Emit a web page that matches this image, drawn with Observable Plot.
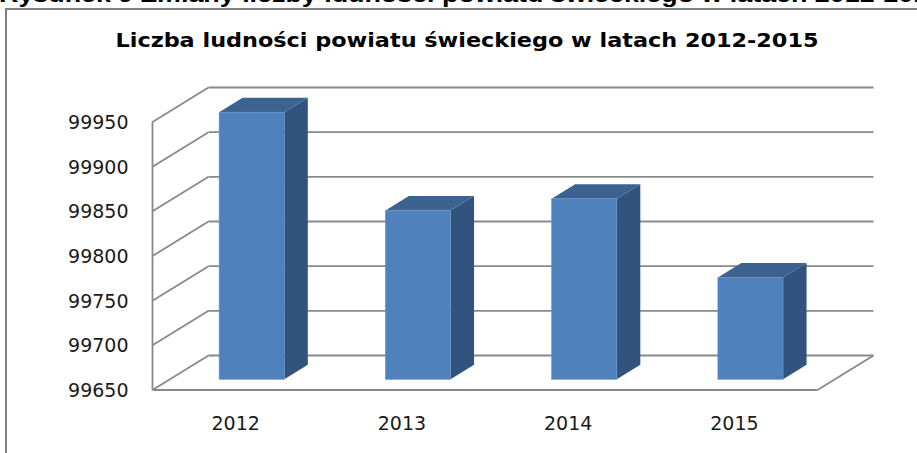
<!DOCTYPE html>
<html>
<head>
<meta charset="utf-8">
<script src="https://cdn.jsdelivr.net/npm/d3@7"></script>
<script src="https://cdn.jsdelivr.net/npm/@observablehq/plot@0.6"></script>
<style>
  html, body { margin: 0; padding: 0; width: 917px; height: 453px; overflow: hidden; background: #fff; }
  #wrap { position: relative; width: 917px; height: 453px; overflow: hidden; }
  #caption { position: absolute; left: -1px; top: -16px; font: bold 22px "Liberation Sans", Arial, sans-serif; line-height: 22px; white-space: nowrap; color: #000; transform: scaleX(1.22); transform-origin: 0 0; }
  #frame { position: absolute; left: 5px; top: 8px; width: 1200px; height: 800px; border: 2px solid #808080; box-sizing: border-box; pointer-events: none; }
  #chart { position: absolute; left: 0; top: 0; }
</style>
</head>
<body>
<div id="wrap">
  <div id="chart"></div>
  <div id="frame"></div>
  <div id="caption"></div>
</div>
<script>
// ---- data ----
const captionText = "Rysunek 9 Zmiany liczby ludności powiatu świeckiego w latach 2012-2015";
const titleText = "Liczba ludności powiatu świeckiego w latach 2012-2015";
const years = ["2012", "2013", "2014", "2015"];
const population = [99949, 99839, 99852, 99764];
const yTicks = [99650, 99700, 99750, 99800, 99850, 99900, 99950];

document.getElementById("caption").textContent = captionText;

// ---- 3D projection helpers (oblique) ----
const yMin = yTicks[0], yMax = yTicks[yTicks.length - 1];
const nCat = years.length;
const W = 917, H = 453;
const mLeft = 152, mRight = 100, mTop = 121.5, mBottom = 63.5;
const pxPerX = (W - mLeft - mRight) / nCat;
const pxPerY = (H - mTop - mBottom) / (yMax - yMin);
const DX = 56 / pxPerX;        // depth shift along x (data units)
const DY = 34.5 / pxPerY;      // depth shift along y (data units)
const d0 = 0.296, d1 = 0.716;  // bar depth extent
const hw = 0.196;              // bar half width

const bars = years.map((yr, i) => ({year: yr, i, v: population[i]}));
const frontFaces = bars.map(b => ({
  year: b.year,
  x1: b.i + 0.5 - hw + d0 * DX, x2: b.i + 0.5 + hw + d0 * DX,
  y1: yMin + d0 * DY, y2: b.v + d0 * DY
}));
const sideFaces = bars.flatMap(b => [
  {year: b.year, x: b.i + 0.5 + hw + d0 * DX, y1: yMin + d0 * DY, y2: b.v + d0 * DY},
  {year: b.year, x: b.i + 0.5 + hw + d1 * DX, y1: yMin + d1 * DY, y2: b.v + d1 * DY}
]);
const topFaces = bars.flatMap(b => {
  const xl0 = b.i + 0.5 - hw + d0 * DX, xr0 = b.i + 0.5 + hw + d0 * DX;
  const xl1 = b.i + 0.5 - hw + d1 * DX, xr1 = b.i + 0.5 + hw + d1 * DX;
  const t0 = b.v + d0 * DY, t1 = b.v + d1 * DY;
  return [
    {year: b.year, x: xl0, y1: t0, y2: t0},
    {year: b.year, x: xl1, y1: t0, y2: t1},
    {year: b.year, x: xr0, y1: t0, y2: t1},
    {year: b.year, x: xr1, y1: t1, y2: t1}
  ];
});

// frame lines (wall / floor edges), derived from the scale domain
const wallLinks = yTicks.map(t => ({x1: 0, y1: t, x2: DX, y2: t + DY}));
const backLinks = yTicks.map(t => ({x1: DX, y1: t + DY, x2: nCat + DX, y2: t + DY}));
const edgeLinks = [
  {x1: 0, y1: yMin, x2: 0, y2: yMax},
  {x1: 0, y1: yMin, x2: nCat, y2: yMin},
  {x1: nCat, y1: yMin, x2: nCat + DX, y2: yMin + DY}
];

const gridColor = "#898989";
const gw = 1.8;

const chart = Plot.plot({
  width: W, height: H,
  marginLeft: mLeft, marginRight: mRight, marginTop: mTop, marginBottom: mBottom,
  style: {fontFamily: "'DejaVu Sans', sans-serif", background: "transparent", overflow: "visible"},
  x: {domain: [0, nCat], axis: null},
  y: {domain: [yMin, yMax], axis: null},
  marks: [
    Plot.link(wallLinks, {x1: "x1", y1: "y1", x2: "x2", y2: "y2", stroke: gridColor, strokeWidth: gw}),
    Plot.link(backLinks, {x1: "x1", y1: "y1", x2: "x2", y2: "y2", stroke: gridColor, strokeWidth: gw}),
    Plot.link(edgeLinks, {x1: "x1", y1: "y1", x2: "x2", y2: "y2", stroke: gridColor, strokeWidth: gw}),
    // bars: side, top, front
    Plot.areaY(sideFaces, {x: "x", y1: "y1", y2: "y2", z: "year", fill: "#31537e", curve: "linear"}),
    Plot.areaY(topFaces, {x: "x", y1: "y1", y2: "y2", z: "year", fill: "#3c6390", curve: "linear"}),
    Plot.rect(frontFaces, {x1: "x1", x2: "x2", y1: "y1", y2: "y2", fill: "#4f81bd", stroke: "#6a93c6", strokeWidth: 0.6}),
    // y tick labels
    Plot.text(yTicks, {x: () => 0, y: d => d, text: d => String(d), textAnchor: "end", dx: -24, dy: 1, fontSize: 19, fill: "#1a1a1a"}),
    // x labels
    Plot.text(bars, {x: d => d.i + 0.5, y: () => yMin, text: "year", dy: 34, fontSize: 19, fill: "#1a1a1a"}),
    // chart title
    Plot.text([titleText], {frameAnchor: "top", text: d => d, dx: -18, dy: -79.5, fontSize: 20, fontWeight: "bold", fill: "#000"})
  ]
});
// widen the title to match the stretched original
d3.select(chart).selectAll("text")
  .filter(function() { return this.textContent === titleText; })
  .attr("textLength", 703).attr("lengthAdjust", "spacingAndGlyphs")
  .attr("dy", null).attr("transform", function() { return (this.getAttribute("transform") || "") + " translate(0,-10)"; });
document.getElementById("chart").appendChild(chart);
</script>
</body>
</html>
